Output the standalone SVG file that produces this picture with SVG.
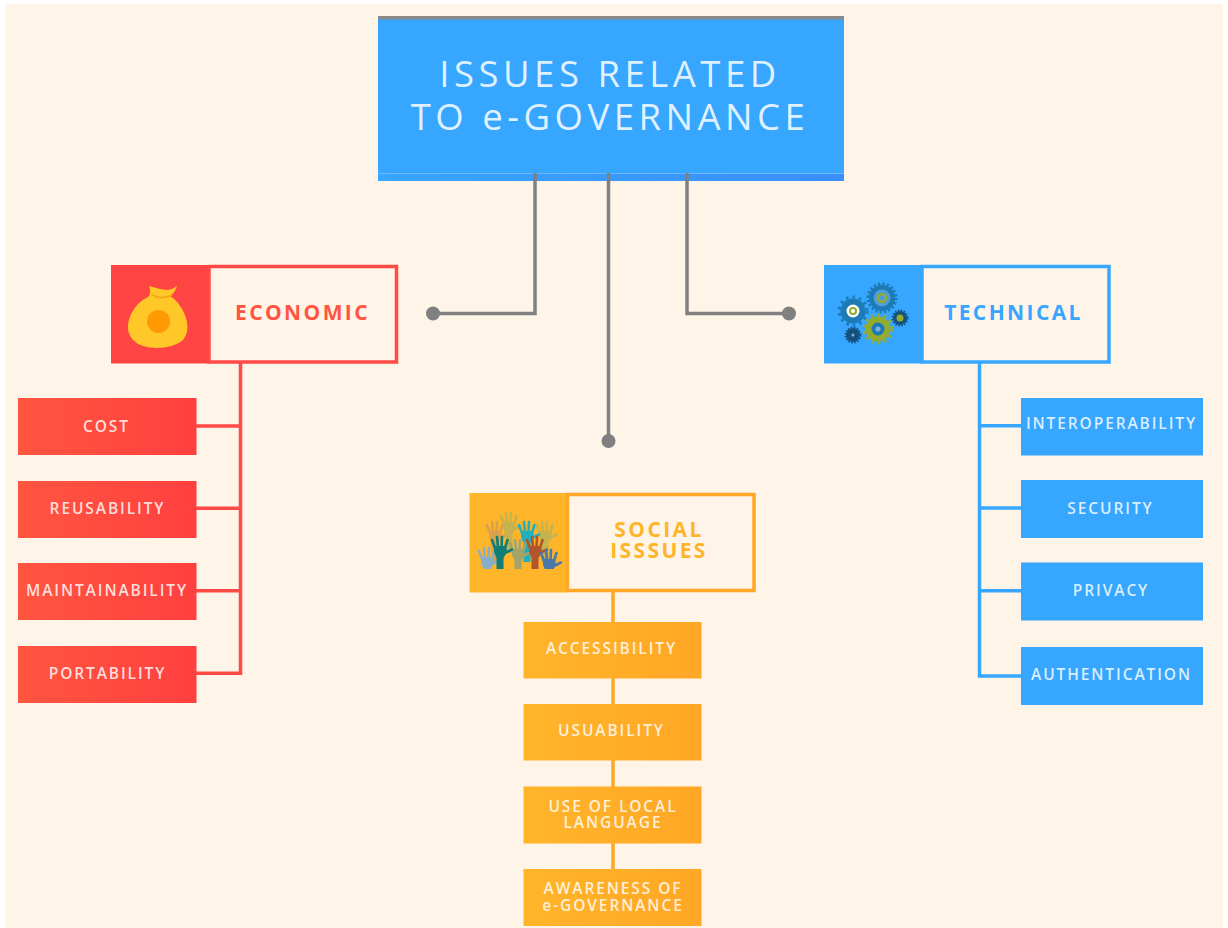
<svg xmlns="http://www.w3.org/2000/svg" width="1228" height="928" viewBox="0 0 1228 928">
<defs>
<linearGradient id="gr"><stop offset="0" stop-color="#ff5540"/><stop offset="1" stop-color="#ff4040"/></linearGradient>
<linearGradient id="go"><stop offset="0" stop-color="#ffb52a"/><stop offset="1" stop-color="#ffa726"/></linearGradient>
<linearGradient id="gb"><stop offset="0" stop-color="#36a6ff"/><stop offset="1" stop-color="#3a8eff"/></linearGradient>
<g id="hand">
<path d="M-6 9H6L7 15L3.500 21V40H-3.500V21L-6 15Z" fill="currentColor"/>
<path d="M-5 11L-8 3M-2 10L-3 0M1.500 10L2 0M5 11L7.500 3M5 16L12 12.500" fill="none" stroke="currentColor" stroke-width="2.600" stroke-linecap="round"/>
</g>
</defs>
<style>
text{font-family:"Open Sans","Noto Sans",sans-serif;text-anchor:middle}
.l{fill:#fff;fill-opacity:.82;font-size:15.500px;font-weight:600;letter-spacing:1.900px}
.h{font-size:21px;font-weight:700;letter-spacing:2.400px}
.c{fill:none;stroke-width:3.500}
.g{stroke:#808080}.rr{stroke:#ff4a46}.oo{stroke:#ffa726}.bb{stroke:#36a6ff}
</style>
<rect x="0" y="0" width="1228" height="928" fill="#ffffff"/>
<rect x="5" y="4" width="1218" height="924" fill="#fff4e8"/>
<g id="root">
<rect x="378" y="16" width="466" height="165" fill="#36a6ff"/>
<rect x="378" y="16" width="466" height="3.500" fill="#8a8a8a"/>
<rect x="378" y="173.500" width="466" height="7.500" fill="url(#gb)"/>
<rect x="378" y="173" width="466" height="1" fill="#6cb8f8"/>
<text x="610" y="87" fill="#fff" fill-opacity=".85" font-size="36.500" letter-spacing="4.500">ISSUES RELATED</text>
<text x="610" y="130" fill="#fff" fill-opacity=".85" font-size="36.500" letter-spacing="4.500">TO e-GOVERNANCE</text>
</g>
<g id="connectors">
<path class="c g" d="M535 173V313.500H433"/>
<path class="c g" d="M608.500 173V441"/>
<path class="c g" d="M687 173V313.500H789"/>
<circle cx="433" cy="313.500" r="7" fill="#808080"/><circle cx="789" cy="313.500" r="7" fill="#808080"/><circle cx="608.500" cy="441" r="7" fill="#808080"/>
<path class="c rr" d="M240.500 362V675M196 426H240.500M196 508.300H240.500M196 590.700H240.500M196 673.300H240.500"/>
<path class="c oo" d="M613 590V869"/>
<path class="c bb" d="M979.500 362V677.700M979.500 425.700H1021M979.500 508H1021M979.500 590.700H1021M979.500 676H1021"/>
</g>
<g id="economic">
<rect x="111" y="265" width="98" height="98.500" fill="#ff4444"/>
<rect x="209" y="266.500" width="187.500" height="95.500" fill="none" stroke="#ff4a46" stroke-width="3.500"/>
<path d="M149 286Q158 289 168 290Q173 289 177 286Q175 293 170 296Q179 301 185 315Q191 332 182 341Q172 348 157 348Q141 348 133 340Q124 330 131 314Q137 302 148 297Q152 293 149 286Z" fill="#ffc727"/>
<path d="M152 295Q162 300 172 295" fill="none" stroke="#f5a814" stroke-width="1.500"/>
<circle cx="158.500" cy="321.500" r="11.500" fill="#ff9a05"/>
<text class="h" x="302.500" y="319.500" fill="#ff5543">ECONOMIC</text>
</g>
<g id="technical">
<rect x="824" y="265" width="98" height="98.500" fill="#36a6ff"/>
<rect x="922" y="266.500" width="187" height="95.500" fill="none" stroke="#36a6ff" stroke-width="3.500"/>
<g fill="none">
<circle cx="882" cy="298" r="13" fill="#1c7ab4"/>
<circle cx="882" cy="298" r="14" stroke="#1c7ab4" stroke-width="3" stroke-dasharray="2.200 2.200"/>
<circle cx="882" cy="298" r="8.500" fill="#4f9ddc"/>
<circle cx="882" cy="298" r="4" stroke="#94ab2e" stroke-width="2.600"/>
<circle cx="853" cy="311" r="12.500" fill="#1c7ab4"/>
<circle cx="853" cy="311" r="14" stroke="#1c7ab4" stroke-width="3" stroke-dasharray="2.500 4"/>
<circle cx="853" cy="311" r="6.500" fill="#fff"/><circle cx="853" cy="311" r="3" stroke="#94ab2e" stroke-width="2"/>
<circle cx="878" cy="329" r="12.500" fill="#94ab2e"/>
<circle cx="878" cy="329" r="14" stroke="#94ab2e" stroke-width="3" stroke-dasharray="2.500 4"/>
<circle cx="878" cy="329" r="6.500" fill="#1c7ab4"/><circle cx="878" cy="329" r="2.500" fill="#7fb0e0"/>
<circle cx="900" cy="318" r="7" fill="#14527e"/>
<circle cx="900" cy="318" r="7.500" stroke="#14527e" stroke-width="2" stroke-dasharray="1.500 1.500"/>
<circle cx="900" cy="318" r="3.500" fill="#94ab2e"/>
<circle cx="853" cy="335" r="7" fill="#14527e"/>
<circle cx="853" cy="335" r="7.500" stroke="#14527e" stroke-width="2" stroke-dasharray="1.500 1.500"/>
<circle cx="853" cy="335" r="1.500" fill="#7fb0e0"/>
</g>
<text class="h" x="1013.500" y="319.500" fill="#36a6ff">TECHNICAL</text>
</g>
<g id="social">
<rect x="469.500" y="493" width="98" height="99.500" fill="#ffb52a"/>
<rect x="567.500" y="494.500" width="186.500" height="96" fill="none" stroke="#ffa726" stroke-width="3.500"/>
<clipPath id="hands"><rect x="470" y="500" width="98" height="69"/></clipPath>
<g clip-path="url(#hands)">
<use href="#hand" x="495" y="522" color="#d9a04e"/>
<use href="#hand" x="509" y="513" color="#c4b34e"/>
<use href="#hand" x="545" y="522" color="#c4b34e"/>
<use href="#hand" x="527" y="522" color="#1fb0c0"/>
<use href="#hand" x="518" y="540" color="#a3a36c"/>
<use href="#hand" x="487" y="548" color="#88aec8"/>
<use href="#hand" x="500" y="537" color="#0f7f76"/>
<use href="#hand" x="535" y="537" color="#b2552a"/>
<use href="#hand" x="549" y="550" color="#4a79ab"/>
</g>
<text class="h" x="659" y="537" fill="#ffb52a">SOCIAL</text>
<text class="h" x="659" y="558" fill="#ffb52a">ISSSUES</text>
</g>
<g id="cost"><rect x="18" y="398" width="178.500" height="57" fill="url(#gr)"/><text class="l" x="106.500" y="431.500">COST</text></g>
<g id="reusability"><rect x="18" y="481" width="178.500" height="57" fill="url(#gr)"/><text class="l" x="107.500" y="513.500">REUSABILITY</text></g>
<g id="maintainability"><rect x="18" y="563" width="178.500" height="57" fill="url(#gr)"/><text class="l" x="107" y="595.500">MAINTAINABILITY</text></g>
<g id="portability"><rect x="18" y="646" width="178.500" height="57" fill="url(#gr)"/><text class="l" x="107.500" y="678.500">PORTABILITY</text></g>
<g id="accessibility"><rect x="523.500" y="622" width="178" height="56.500" fill="url(#go)"/><text class="l" x="611.500" y="654">ACCESSIBILITY</text></g>
<g id="usuability"><rect x="523.500" y="704" width="178" height="56.500" fill="url(#go)"/><text class="l" x="611.500" y="736">USUABILITY</text></g>
<g id="local-language"><rect x="523.500" y="786.500" width="178" height="57" fill="url(#go)"/><text class="l" x="613" y="811.500">USE OF LOCAL</text><text class="l" x="613" y="827.500">LANGUAGE</text></g>
<g id="awareness"><rect x="523.500" y="869" width="178" height="57" fill="url(#go)"/><text class="l" x="613" y="893.500">AWARENESS OF</text><text class="l" x="613" y="910.500">e-GOVERNANCE</text></g>
<g id="interoperability"><rect x="1021" y="398" width="182" height="57.500" fill="#36a6ff"/><text class="l" x="1111.500" y="429">INTEROPERABILITY</text></g>
<g id="security"><rect x="1021" y="480" width="182" height="58" fill="#36a6ff"/><text class="l" x="1110.500" y="513.500">SECURITY</text></g>
<g id="privacy"><rect x="1021" y="562.500" width="182" height="58" fill="#36a6ff"/><text class="l" x="1111" y="595.500">PRIVACY</text></g>
<g id="authentication"><rect x="1021" y="647" width="182" height="58" fill="#36a6ff"/><text class="l" x="1111.500" y="679.500">AUTHENTICATION</text></g>
</svg>
